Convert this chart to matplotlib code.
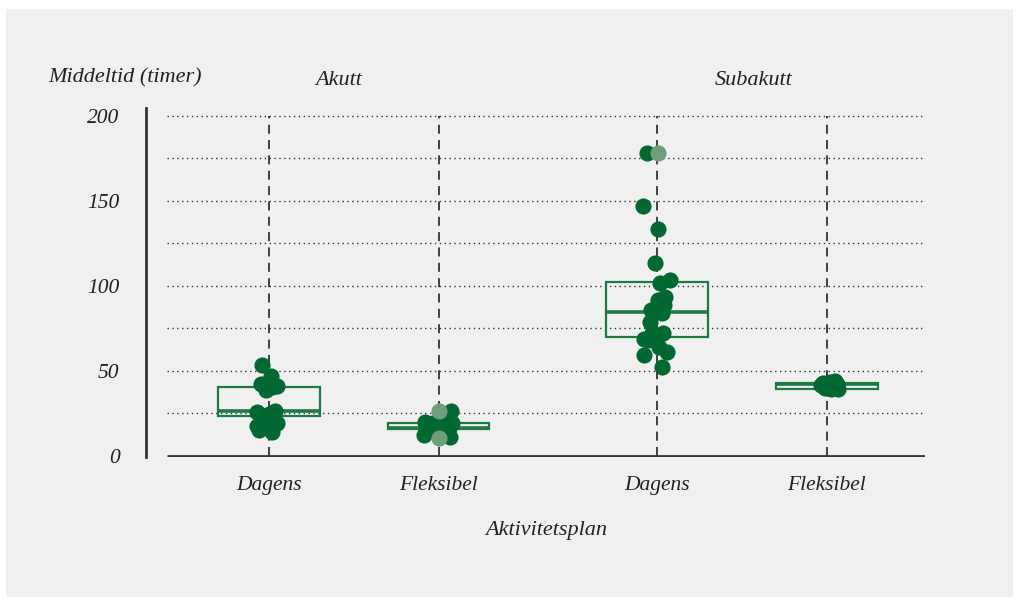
import numpy as np
import matplotlib.pyplot as plt
from matplotlib.patches import Rectangle

# categories and positions
groups = ['Akutt', 'Subakutt']
categories = ['Dagens', 'Fleksibel', 'Dagens', 'Fleksibel']
positions = [0, 1, 2.29, 3.29]

# box statistics (q1, median, q3) per category
box_q1 = [23.5, 16.0, 70.0, 39.5]
box_med = [26.5, 16.6, 84.7, 42.5]
box_q3 = [40.6, 19.5, 102.4, 43.0]

# individual points: jitter (in category units) and value (timer)
akutt_dagens_x = [-0.041, 0.012, -0.047, 0.047, -0.018, 0.018, -0.071, 0.035, -0.035, 0.0, -0.071, 0.047, 0.0, 0.018, -0.059, -0.024]
akutt_dagens_y = [53.5, 47.0, 42.5, 41.2, 39.0, 40.5, 26.0, 26.5, 23.5, 24.5, 17.6, 19.4, 19.0, 14.3, 15.5, 22.0]
akutt_fleks_x = [0.075, -0.077, -0.03, 0.041, 0.059, -0.088, -0.047, 0.065, 0.024, 0.077, -0.012, -0.059]
akutt_fleks_y = [26.7, 20.2, 19.4, 21.0, 16.5, 12.4, 15.3, 11.2, 17.3, 19.6, 14.5, 18.0]
akutt_fleks_light_x = [0.0, 0.0]
akutt_fleks_light_y = [26.5, 10.6]
sub_dagens_x = [-0.059, -0.083, 0.006, -0.012, 0.077, 0.018, 0.047, 0.006, 0.041, 0.03, -0.035, -0.041, 0.035, -0.03, -0.077, -0.053, 0.012, 0.059, -0.077, 0.03]
sub_dagens_y = [178.4, 147.2, 133.5, 113.7, 103.5, 101.6, 93.7, 91.8, 88.8, 84.0, 85.9, 79.0, 72.2, 72.2, 68.6, 68.2, 63.9, 61.0, 59.2, 52.5]
sub_dagens_light_x = [0.006]
sub_dagens_light_y = [178.4]
sub_fleks_x = [-0.035, -0.012, 0.018, 0.035, 0.059, 0.065, 0.0, 0.024, -0.024, 0.047, 0.006]
sub_fleks_y = [42.0, 40.0, 43.5, 41.0, 42.5, 39.5, 41.5, 39.2, 43.0, 44.0, 40.2]

yticks = [0, 50, 100, 150, 200]
grid_levels = [25, 50, 75, 100, 125, 150, 175, 200]

dark_green = '#006830'
light_green = '#6f9e7b'
box_green = '#1d7a45'
axis_grey = '#333333'
panel_grey = '#f0f0f0'

plt.rcParams['font.family'] = ['Liberation Serif', 'DejaVu Serif']
plt.rcParams['font.style'] = 'italic'

fig = plt.figure(figsize=(10.21, 6.0), dpi=100)
fig.patch.set_facecolor('white')
fig.patches.append(Rectangle((6 / 1021, 3 / 600), 1007 / 1021, 588 / 600,
                             transform=fig.transFigure, facecolor=panel_grey,
                             edgecolor='none', zorder=-10))

ax = fig.add_axes([146 / 1021, 143 / 600, 779 / 1021, 349 / 600])
ax.set_zorder(1)
ax.set_facecolor('none')
ax.set_xlim(-0.726, 3.87)
ax.set_ylim(-0.6, 204.7)

x_left, x_right = -0.6, 3.87
ax.hlines(grid_levels, x_left, x_right, colors=axis_grey, linestyles=(0, (1, 2.5)),
          linewidth=1.0, zorder=1)
ax.vlines(positions, 0, 200, colors=axis_grey, linestyles=(0, (5, 3.5)),
          linewidth=1.3, zorder=1)
ax.plot([x_left, x_right], [0, 0], color=axis_grey, linewidth=2, zorder=2,
        solid_capstyle='butt')

stats = []
for q1, med, q3 in zip(box_q1, box_med, box_q3):
    stats.append({'q1': q1, 'med': med, 'q3': q3, 'whislo': q1, 'whishi': q3, 'fliers': []})
ax.bxp(stats, positions=positions, widths=0.6, showcaps=False, showfliers=False,
       patch_artist=True,
       boxprops=dict(facecolor='none', edgecolor=box_green, linewidth=1.6),
       medianprops=dict(color=box_green, linewidth=2.6),
       whiskerprops=dict(linewidth=0), zorder=2)

msize = 135
ax.scatter(np.add(positions[0], akutt_dagens_x), akutt_dagens_y, s=msize, color=dark_green, zorder=3, linewidths=0)
ax.scatter(np.add(positions[1], akutt_fleks_x), akutt_fleks_y, s=msize, color=dark_green, zorder=3, linewidths=0)
ax.scatter(np.add(positions[1], akutt_fleks_light_x), akutt_fleks_light_y, s=msize, color=light_green, zorder=4, linewidths=0)
ax.scatter(np.add(positions[2], sub_dagens_x), sub_dagens_y, s=msize, color=dark_green, zorder=3, linewidths=0)
ax.scatter(np.add(positions[2], sub_dagens_light_x), sub_dagens_light_y, s=msize, color=light_green, zorder=4, linewidths=0)
ax.scatter(np.add(positions[3], sub_fleks_x), sub_fleks_y, s=msize, color=dark_green, zorder=3, linewidths=0)

for side in ['top', 'right', 'bottom']:
    ax.spines[side].set_visible(False)
ax.spines['left'].set_color(axis_grey)
ax.spines['left'].set_linewidth(2)

ax.set_yticks(yticks)
ax.set_yticklabels([str(v) for v in yticks], fontsize=15.5, color='#222222')
ax.set_xticks(positions)
ax.set_xticklabels(categories, fontsize=15.5, color='#222222')
ax.tick_params(axis='y', length=0, pad=19)
ax.tick_params(axis='x', length=0, pad=14)

ax.text(0.41, 221, groups[0], ha='center', va='center', fontsize=16, color='#222222')
ax.text(2.86, 221, groups[1], ha='center', va='center', fontsize=16, color='#222222')
fig.text(48 / 1021, 1 - 78 / 600, 'Middeltid (timer)', ha='left', va='center', fontsize=16, color='#222222')
fig.text(546 / 1021, 1 - 530 / 600, 'Aktivitetsplan', ha='center', va='center', fontsize=16, color='#222222')

fig.savefig('out.png', dpi=100, facecolor=fig.get_facecolor())
